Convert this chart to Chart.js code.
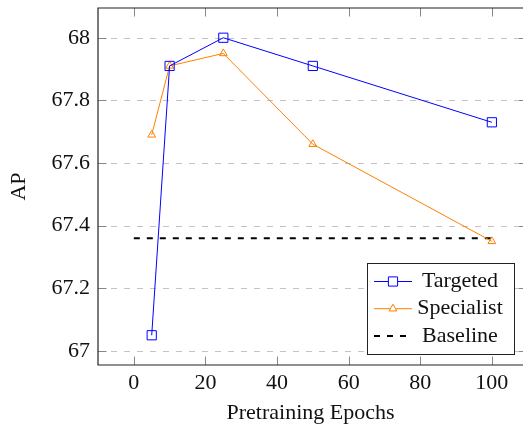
<!DOCTYPE html>
<html>
<head>
<meta charset="utf-8">
<script src="https://cdn.jsdelivr.net/npm/chart.js@4.4.1/dist/chart.umd.min.js"></script>
<style>
  html, body { margin: 0; padding: 0; background: #fff; overflow: hidden; }
</style>
</head>
<body>
<canvas id="myChart" width="523" height="426"></canvas>
<script>
const epochs = [5, 10, 25, 50, 100];
const targetedAP = [67.05, 67.91, 68.0, 67.91, 67.73];
const specialistAP = [67.69, 67.91, 67.95, 67.66, 67.35];
const baselineEpochs = [0, 100];
const baselineAP = [67.36, 67.36];
const xTicks = [0, 20, 40, 60, 80, 100];
const yTicks = [67, 67.2, 67.4, 67.6, 67.8, 68];

const FONT = 'Liberation Serif, Times New Roman, serif';
const FS = 22;
const toPoints = (xs, ys) => xs.map((x, i) => ({ x: x, y: ys[i] }));

// dashed grid, axis lines + inward tick marks, like pgfplots (right side of the box is cropped off)
const frame = {
  id: 'frame',
  beforeDatasetsDraw(chart) {
    const { ctx, chartArea: a, scales } = chart;
    ctx.save();
    ctx.strokeStyle = '#c4c4c4';
    ctx.lineWidth = 1;
    ctx.setLineDash([6, 7]);
    yTicks.forEach(v => {
      const py = Math.round(scales.y.getPixelForValue(v)) + 0.5;
      ctx.beginPath();
      ctx.moveTo(a.left, py); ctx.lineTo(a.right, py);
      ctx.stroke();
    });
    ctx.restore();
  },
  afterDatasetsDraw(chart) {
    const { ctx, chartArea: a, scales } = chart;
    ctx.save();
    ctx.strokeStyle = '#888';
    ctx.lineWidth = 1;
    xTicks.forEach(v => {
      const px = Math.round(scales.x.getPixelForValue(v)) + 0.5;
      ctx.beginPath();
      ctx.moveTo(px, a.bottom); ctx.lineTo(px, a.bottom - 8.5);
      ctx.moveTo(px, a.top); ctx.lineTo(px, a.top + 8.5);
      ctx.stroke();
    });
    yTicks.forEach(v => {
      const py = Math.round(scales.y.getPixelForValue(v)) + 0.5;
      ctx.beginPath();
      ctx.moveTo(a.left, py); ctx.lineTo(a.left + 8.5, py);
      ctx.moveTo(a.right, py); ctx.lineTo(a.right - 4, py);
      ctx.stroke();
    });
    ctx.strokeStyle = '#222';
    ctx.lineWidth = 1.2;
    ctx.beginPath();
    ctx.moveTo(a.right, a.top); ctx.lineTo(a.left, a.top);
    ctx.lineTo(a.left, a.bottom); ctx.lineTo(a.right, a.bottom);
    ctx.stroke();
    ctx.restore();
  },
  afterDraw(chart) {
    const { ctx, chartArea: a } = chart;
    const w = 147, h = 91;
    const left = a.right - 9 - w, top = a.bottom - 11 - h;
    ctx.save();
    ctx.fillStyle = '#fff';
    ctx.fillRect(left, top, w, h);
    ctx.strokeStyle = '#222';
    ctx.lineWidth = 1;
    ctx.strokeRect(left + 0.5, top + 0.5, w, h);
    chart.data.datasets.forEach((ds, i) => {
      const y = top + 18.5 + i * 27.2;
      ctx.save();
      ctx.strokeStyle = ds.borderColor;
      ctx.lineWidth = ds.borderWidth;
      ctx.setLineDash(ds.borderDash || []);
      ctx.beginPath();
      ctx.moveTo(left + 7, y); ctx.lineTo(left + 45, y);
      ctx.stroke();
      ctx.restore();
      if (ds.pointStyle && ds.pointRadius > 0) {
        ctx.save();
        ctx.fillStyle = '#fff';
        ctx.strokeStyle = ds.pointBorderColor;
        ctx.lineWidth = ds.pointBorderWidth;
        Chart.helpers.drawPoint(ctx, { pointStyle: ds.pointStyle, radius: ds.pointRadius, rotation: 0, borderWidth: ds.pointBorderWidth }, left + 26, y);
        ctx.restore();
      }
      ctx.fillStyle = '#111';
      ctx.font = FS + 'px ' + FONT;
      ctx.textAlign = 'center';
      ctx.textBaseline = 'middle';
      ctx.fillText(ds.label, left + 93, y);
    });
    ctx.restore();
  }
};

const noPad = s => { s.paddingTop = 0; s.paddingBottom = 0; s.paddingLeft = 0; s.paddingRight = 0; };

new Chart(document.getElementById('myChart'), {
  type: 'line',
  data: {
    datasets: [
      {
        label: 'Targeted',
        data: toPoints(epochs, targetedAP),
        borderColor: 'rgb(0,0,255)',
        borderWidth: 1,
        pointStyle: 'rect',
        pointRadius: 6.5,
        pointBorderColor: 'rgb(0,0,255)',
        pointBackgroundColor: 'rgba(255,255,255,0)',
        pointBorderWidth: 1,
        tension: 0,
      },
      {
        label: 'Specialist',
        data: toPoints(epochs, specialistAP),
        borderColor: 'rgb(255,128,0)',
        borderWidth: 1,
        pointStyle: 'triangle',
        pointRadius: 4.5,
        pointBorderColor: 'rgb(255,128,0)',
        pointBackgroundColor: 'rgba(255,255,255,0)',
        pointBorderWidth: 1,
        tension: 0,
      },
      {
        label: 'Baseline',
        data: toPoints(baselineEpochs, baselineAP),
        borderColor: '#000',
        borderWidth: 2,
        borderDash: [6, 7],
        pointRadius: 0,
        tension: 0,
      },
    ],
  },
  options: {
    responsive: false,
    animation: false,
    devicePixelRatio: 1,
    layout: { autoPadding: false, padding: { top: 8, left: 0, right: 0, bottom: 0 } },
    plugins: { legend: { display: false }, tooltip: { enabled: false } },
    scales: {
      x: {
        type: 'linear',
        min: -10,
        max: 108.7,
        afterFit: s => { s.height = 61; noPad(s); },
        afterBuildTicks: s => { s.ticks = xTicks.map(v => ({ value: v })); },
        grid: { display: false, drawTicks: false },
        border: { display: false },
        ticks: { padding: 5, color: '#111', font: { family: FONT, size: FS }, maxRotation: 0 },
        title: { display: true, text: 'Pretraining Epochs', color: '#111', font: { family: FONT, size: FS }, padding: { top: 0, bottom: 0 } },
      },
      y: {
        type: 'linear',
        min: 66.955,
        max: 68.095,
        afterFit: s => { s.width = 98; noPad(s); },
        afterBuildTicks: s => { s.ticks = yTicks.map(v => ({ value: v })); },
        grid: { display: false, drawTicks: false },
        border: { display: false },
        ticks: { padding: 8, color: '#111', font: { family: FONT, size: FS }, callback: v => String(+v.toFixed(1)) },
        title: { display: true, text: 'AP', color: '#111', font: { family: FONT, size: FS }, padding: { top: 6, bottom: 0 } },
      },
    },
  },
  plugins: [frame],
});
</script>
</body>
</html>
